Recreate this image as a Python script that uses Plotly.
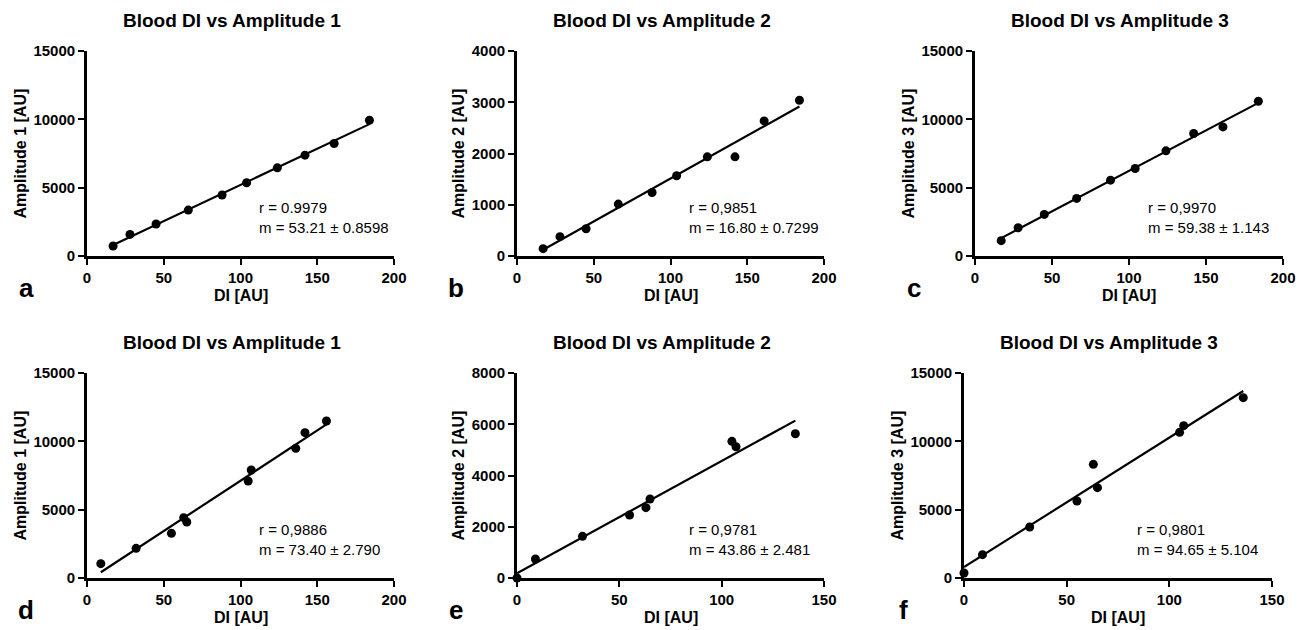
import numpy as np
import plotly.graph_objects as go

# ---------------- data ----------------
titles = ["Blood DI vs Amplitude 1", "Blood DI vs Amplitude 2", "Blood DI vs Amplitude 3",
          "Blood DI vs Amplitude 1", "Blood DI vs Amplitude 2", "Blood DI vs Amplitude 3"]
ytitles = ["Amplitude 1 [AU]", "Amplitude 2 [AU]", "Amplitude 3 [AU]",
           "Amplitude 1 [AU]", "Amplitude 2 [AU]", "Amplitude 3 [AU]"]
letters = ["a", "b", "c", "d", "e", "f"]
stats_r = ["r = 0.9979", "r = 0,9851", "r = 0,9970", "r = 0,9886", "r = 0,9781", "r = 0,9801"]
stats_m = ["m = 53.21 ± 0.8598", "m = 16.80 ± 0.7299", "m = 59.38 ± 1.143",
           "m = 73.40 ± 2.790", "m = 43.86 ± 2.481", "m = 94.65 ± 5.104"]

di_top = [17, 28, 45, 66, 88, 104, 124, 142, 161, 184]
amp1_top = [730, 1580, 2340, 3360, 4460, 5360, 6450, 7380, 8230, 9930]
amp2_top = [143, 377, 532, 1013, 1240, 1565, 1935, 1935, 2636, 3039]
amp3_top = [1120, 2070, 3044, 4212, 5551, 6404, 7694, 8960, 9447, 11322]

di_d = [9, 32, 55, 63, 65, 105, 107, 136, 142, 156]
amp1_d = [1049, 2171, 3268, 4415, 4098, 7098, 7902, 9488, 10634, 11488]

di_ef = [0, 9, 32, 55, 63, 65, 105, 107, 136]
amp2_e = [0, 741, 1626, 2458, 2744, 3082, 5332, 5124, 5631]
amp3_f = [366, 1707, 3732, 5634, 8317, 6610, 10659, 11146, 13195]

xs = [di_top, di_top, di_top, di_d, di_ef, di_ef]
ys = [amp1_top, amp2_top, amp3_top, amp1_d, amp2_e, amp3_f]
xmax = [200, 200, 200, 200, 150, 150]
ymax = [15000, 4000, 15000, 15000, 8000, 15000]
ydtick = [5000, 1000, 5000, 5000, 2000, 5000]

# ---------------- layout geometry ----------------
W, H = 1306, 630
px_x = [(87, 394), (517, 824), (975, 1283), (87, 394), (517, 824), (964, 1272)]
px_y = [(51, 256), (51, 256), (51, 256), (373, 578), (373, 578), (373, 578)]

FONT = "Liberation Sans, Arial, Helvetica, sans-serif"

fig = go.Figure()
layout = dict(width=W, height=H, margin=dict(l=0, r=0, t=0, b=0, autoexpand=False),
              paper_bgcolor="white", plot_bgcolor="white", showlegend=False,
              font=dict(family=FONT, color="black"))
annotations = []

for i in range(6):
    n = "" if i == 0 else str(i + 1)
    xa, ya = "x" + n, "y" + n
    x = np.array(xs[i], dtype=float)
    y = np.array(ys[i], dtype=float)
    m, b = np.polyfit(x, y, 1)
    lx = np.array([x.min(), x.max()])
    fig.add_trace(go.Scatter(x=lx, y=m * lx + b, mode="lines",
                             line=dict(color="black", width=2.2),
                             xaxis=xa, yaxis=ya, hoverinfo="skip"))
    fig.add_trace(go.Scatter(x=x, y=y, mode="markers",
                             marker=dict(color="black", size=9),
                             xaxis=xa, yaxis=ya, cliponaxis=False))
    x0, x1 = px_x[i]
    y0, y1 = px_y[i]
    xd = [x0 / W, x1 / W]
    yd = [1 - y1 / H, 1 - y0 / H]
    tickfont = dict(family=FONT, size=15, color="black", weight="bold")
    layout["xaxis" + n] = dict(domain=xd, anchor=ya, range=[0, xmax[i]],
                               tickmode="linear", tick0=0, dtick=50, automargin=False,
                               showline=True, linewidth=2.8, linecolor="black",
                               ticks="outside", ticklen=6, tickwidth=2.2, tickcolor="black",
                               showgrid=False, zeroline=False, tickfont=tickfont,
                               tickformat="d")
    layout["yaxis" + n] = dict(domain=yd, anchor=xa, range=[0, ymax[i]],
                               tickmode="linear", tick0=0, dtick=ydtick[i], automargin=False,
                               showline=True, linewidth=2.8, linecolor="black",
                               ticks="outside", ticklen=6, tickwidth=2.2, tickcolor="black",
                               showgrid=False, zeroline=False, tickfont=tickfont,
                               tickformat="d")
    cx = (x0 + x1) / 2
    # title
    annotations.append(dict(text=titles[i], xref="paper", yref="paper",
                            x=(cx - 9) / W, y=1 - (y0 - 31) / H,
                            xanchor="center", yanchor="middle", showarrow=False,
                            font=dict(family=FONT, size=19, color="black", weight="bold")))
    # x-axis title
    annotations.append(dict(text="DI [AU]", xref="paper", yref="paper",
                            x=cx / W, y=1 - (y1 + 39) / H,
                            xanchor="center", yanchor="middle", showarrow=False,
                            font=dict(family=FONT, size=16, color="black", weight="bold")))
    # y-axis title
    gap = 59 if ymax[i] < 10000 else 67
    annotations.append(dict(text=ytitles[i], xref="paper", yref="paper",
                            x=(x0 - gap) / W, y=1 - ((y0 + y1) / 2) / H, textangle=-90,
                            xanchor="center", yanchor="middle", showarrow=False,
                            font=dict(family=FONT, size=16, color="black", weight="bold")))
    # panel letter
    annotations.append(dict(text=letters[i], xref="paper", yref="paper",
                            x=(x0 - 61) / W, y=1 - (y1 + 32) / H,
                            xanchor="center", yanchor="middle", showarrow=False,
                            font=dict(family=FONT, size=26, color="black", weight="bold")))
    # stats
    annotations.append(dict(text=stats_r[i] + "<br>" + stats_m[i],
                            xref=xa + " domain", yref=ya + " domain",
                            x=0.554, y=0.19, xanchor="left", yanchor="middle",
                            align="left", showarrow=False,
                            font=dict(family=FONT, size=15, color="black")))

layout["annotations"] = annotations
fig.update_layout(**layout)
fig.write_html("out.html", config={"displayModeBar": False},
               post_script="document.body.style.margin='0';document.body.style.overflow='hidden';")
